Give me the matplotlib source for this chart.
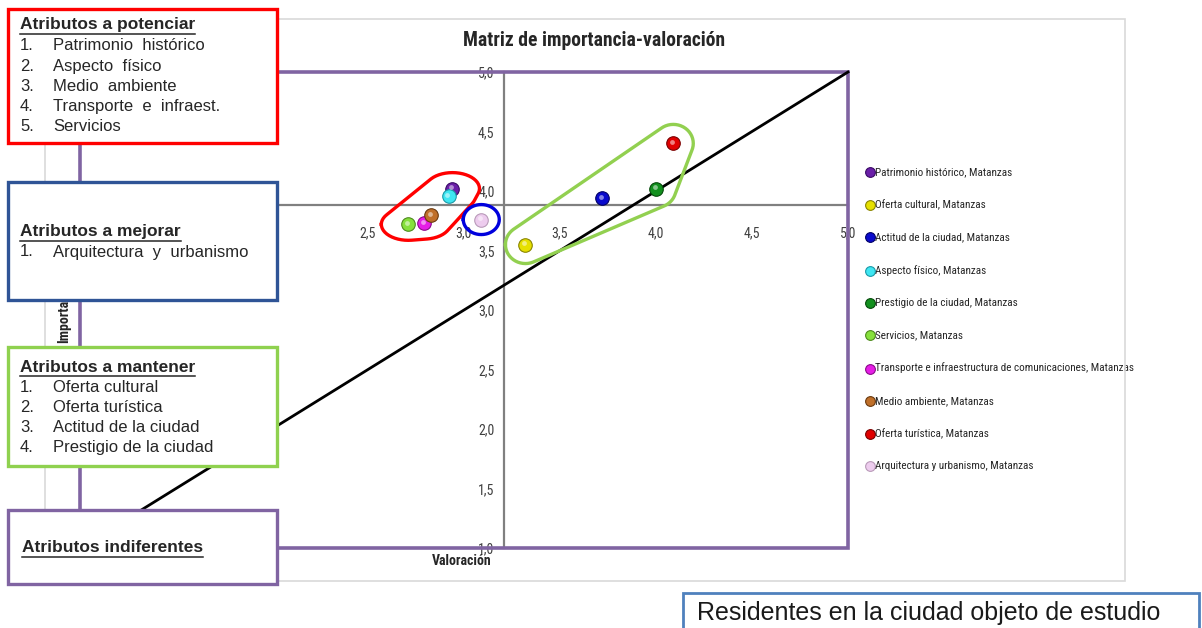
import numpy as np
import matplotlib
matplotlib.use("Agg")
import matplotlib.pyplot as plt
from matplotlib.patches import Rectangle
from matplotlib.ticker import FuncFormatter, MultipleLocator
from matplotlib import font_manager as fm

# ---------------- data ----------------
attributes = [
    "Patrimonio histórico, Matanzas",
    "Oferta cultural, Matanzas",
    "Actitud de la ciudad, Matanzas",
    "Aspecto físico, Matanzas",
    "Prestigio de la ciudad, Matanzas",
    "Servicios, Matanzas",
    "Transporte e infraestructura de comunicaciones, Matanzas",
    "Medio ambiente, Matanzas",
    "Oferta turística, Matanzas",
    "Arquitectura y urbanismo, Matanzas",
]
valoracion = [2.94, 3.32, 3.72, 2.92, 4.00, 2.71, 2.79, 2.83, 4.09, 3.09]
importancia = [4.02, 3.55, 3.94, 3.96, 4.02, 3.72, 3.73, 3.80, 4.40, 3.76]
point_colors = ["#6A1FA8", "#E6E000", "#0A0ACC", "#3EE6F2", "#12901E",
                "#86E03C", "#E61EE6", "#C0702A", "#E00000", "#EDCCEE"]
edge_colors = ["#3A0A66", "#8A8500", "#000066", "#1A9AA8", "#044A0A",
               "#4E8A1E", "#8A0A8A", "#6A3A10", "#7A0000", "#B99AB9"]

x_cross = 3.21   # vertical axis position (valoración)
y_cross = 3.88   # horizontal axis position (importancia)
axis_min, axis_max = 1.0, 5.0
tick_step = 0.5

group_potenciar = [0, 3, 7, 6, 5]
group_mejorar = [9]
group_mantener = [1, 8, 2, 4]

box_potenciar = ["Patrimonio  histórico", "Aspecto  físico",
                 "Medio  ambiente", "Transporte  e  infraest.", "Servicios"]
box_mejorar = ["Arquitectura  y  urbanismo"]
box_mantener = ["Oferta cultural", "Oferta turística",
                "Actitud de la ciudad", "Prestigio de la ciudad"]

# ---------------- fonts ----------------
def available(name):
    try:
        fm.findfont(fm.FontProperties(family=name), fallback_to_default=False)
        return True
    except Exception:
        return False

narrow_name = None
for cand in ["Liberation Sans Narrow", "Arial Narrow", "Roboto Condensed",
             "Open Sans Condensed", "Noto Sans Display"]:
    if available(cand):
        narrow_name = cand
        break
narrow_stretch = "normal"
if narrow_name is None:
    path = fm.findfont(fm.FontProperties(family="DejaVu Sans", stretch="condensed"))
    if "Condensed" in path:
        narrow_name = "DejaVu Sans"
        narrow_stretch = "condensed"
    else:
        narrow_name = "Roboto"
narrow = [narrow_name, "DejaVu Sans"]
arial = ["Liberation Sans", "DejaVu Sans"]

# ---------------- figure ----------------
W, H = 1202, 628
fig = plt.figure(figsize=(W / 100, H / 100), dpi=100)
fig.patch.set_facecolor("white")
renderer = fig.canvas.get_renderer()


def fx(px):
    return px / W


def fy(py):
    return 1 - py / H


def fit_size(text_str, target_px, base, **kw):
    t = fig.text(0, 0, text_str, fontsize=base, **kw)
    w = t.get_window_extent(renderer=renderer).width
    t.remove()
    return base * target_px / w


# chart frame (light gray)
fig.patches.append(Rectangle((fx(45), fy(581)), fx(1125) - fx(45), fy(19) - fy(581),
                             transform=fig.transFigure, fill=False,
                             edgecolor="#D9D9D9", lw=1.2, zorder=0))

L, R, T, B = 80, 848, 72, 548
ax = fig.add_axes([fx(L), fy(B), fx(R) - fx(L), fy(T) - fy(B)])
ax.set_xlim(axis_min, axis_max)
ax.set_ylim(axis_min, axis_max)
ax.set_facecolor("none")

for s in ["top", "right"]:
    ax.spines[s].set_visible(False)
ax.spines["left"].set_position(("data", x_cross))
ax.spines["bottom"].set_position(("data", y_cross))
for s in ["left", "bottom"]:
    ax.spines[s].set_color("#808080")
    ax.spines[s].set_linewidth(1.6)
    ax.spines[s].set_zorder(1)

fmt = FuncFormatter(lambda v, p: f"{v:.1f}".replace(".", ","))
ax.xaxis.set_major_locator(MultipleLocator(tick_step))
ax.yaxis.set_major_locator(MultipleLocator(tick_step))
ax.xaxis.set_major_formatter(fmt)
ax.yaxis.set_major_formatter(fmt)
ax.tick_params(axis="both", length=0, labelsize=10, labelcolor="#404040")
ax.tick_params(axis="x", pad=15)
ax.tick_params(axis="y", pad=7)
for lab in ax.get_xticklabels() + ax.get_yticklabels():
    lab.set_fontfamily(narrow)
    lab.set_fontstretch(narrow_stretch)

# purple plot-area border
ax.add_patch(Rectangle((0, 0), 1, 1, transform=ax.transAxes, fill=False,
                       edgecolor="#8064A2", lw=2.6, zorder=2, clip_on=False))

# diagonal y = x
ax.plot([axis_min, axis_max], [axis_min, axis_max], color="black", lw=2.0,
        zorder=3, clip_on=False)

ax.set_xlabel("Valoración", fontsize=10, fontweight="bold", family=narrow,
              fontstretch=narrow_stretch, color="#262626")
ax.xaxis.set_label_coords(0.497, -0.012)
ax.xaxis.label.set_va("top")
ax.set_ylabel("Importancia", fontsize=10, fontweight="bold", family=narrow,
              fontstretch=narrow_stretch, color="#262626")
ax.yaxis.set_label_coords(-0.012, 0.5)

# points
for i in range(len(attributes)):
    ax.scatter([valoracion[i]], [importancia[i]], s=95, color=point_colors[i],
               edgecolor=edge_colors[i], linewidth=0.8, zorder=5,
               label=attributes[i], clip_on=False)
    ax.scatter([valoracion[i] - 0.006], [importancia[i] + 0.01], s=12,
               color="white", alpha=0.5, linewidth=0, zorder=6, clip_on=False)


# hand-drawn style loops around groups
def hull(pts):
    pts = sorted(set(map(tuple, pts)))
    def cross(o, a, b):
        return (a[0] - o[0]) * (b[1] - o[1]) - (a[1] - o[1]) * (b[0] - o[0])
    lower, upper = [], []
    for p in pts:
        while len(lower) >= 2 and cross(lower[-2], lower[-1], p) <= 0:
            lower.pop()
        lower.append(p)
    for p in reversed(pts):
        while len(upper) >= 2 and cross(upper[-2], upper[-1], p) <= 0:
            upper.pop()
        upper.append(p)
    return lower[:-1] + upper[:-1]


def loop(group, color, rx, ry, lw=2.4):
    disp = ax.transData.transform(np.column_stack(
        [[valoracion[i] for i in group], [importancia[i] for i in group]]))
    ang = np.linspace(0, 2 * np.pi, 48, endpoint=False)
    samples = []
    for (px, py) in disp:
        for a in ang:
            samples.append((round(px + rx * np.cos(a), 3),
                            round(py + ry * np.sin(a), 3)))
    h = np.array(hull(samples))
    h = np.vstack([h, h[:1]])
    d = ax.transData.inverted().transform(h)
    ax.plot(d[:, 0], d[:, 1], color=color, lw=lw, zorder=4, clip_on=False,
            solid_joinstyle="round")


loop(group_potenciar, "#FF0000", 27, 16)
loop(group_mejorar, "#0000DD", 18, 15)
loop(group_mantener, "#92D050", 20, 19)

# legend
leg_size = min(10.0, fit_size(attributes[6], 256, 10, family=narrow,
                              fontstretch=narrow_stretch))
leg = ax.legend(loc="upper left", bbox_to_anchor=(fx(864), fy(167)),
                bbox_transform=fig.transFigure,
                frameon=False,
                prop={"family": narrow, "size": leg_size, "stretch": narrow_stretch},
                handletextpad=0.0, labelspacing=33.4 / (leg_size * 1.389) - 1.0,
                markerscale=0.72, borderaxespad=0, borderpad=0,
                handlelength=1.0)
for t in leg.get_texts():
    t.set_color("#262626")

# title
title_str = "Matriz de importancia-valoración"
title_size = min(15.0, fit_size(title_str, 262, 14, family=narrow,
                                fontweight="bold", fontstretch=narrow_stretch))
fig.text(fx(594), fy(40), title_str, ha="center", va="center",
         fontsize=title_size, fontweight="bold", family=narrow,
         fontstretch=narrow_stretch, color="#262626")


# annotation boxes
def box(x0, y0, x1, y1, color, lw=2.4):
    fig.patches.append(Rectangle((fx(x0), fy(y1)), fx(x1) - fx(x0), fy(y0) - fy(y1),
                                 transform=fig.transFigure, facecolor="white",
                                 edgecolor=color, lw=lw, zorder=10))


def heading(x, y, s):
    t = fig.text(fx(x), fy(y), s, ha="left", va="center", fontsize=12.5,
                 fontweight="bold", family=arial, color="#262626", zorder=11)
    bb = t.get_window_extent(renderer=renderer)
    fig.add_artist(plt.Line2D([bb.x0 / W, bb.x1 / W],
                              [fy(y + 9)] * 2, transform=fig.transFigure,
                              color="#262626", lw=1.1, zorder=11))


def lines(y0, items, step=20.2):
    for k, s in enumerate(items):
        fig.text(fx(20), fy(y0 + k * step), f"{k + 1}.", ha="left", va="center",
                 fontsize=12, family=arial, color="#262626", zorder=11)
        fig.text(fx(53), fy(y0 + k * step), s, ha="left", va="center",
                 fontsize=12, family=arial, color="#262626", zorder=11)


box(8, 9, 277, 143, "#FF0000")
heading(20, 25, "Atributos a potenciar")
lines(46, box_potenciar)

box(8, 182, 277, 300, "#2F5496")
heading(20, 232, "Atributos a mejorar")
lines(252, box_mejorar)

box(8, 347, 277, 466, "#8FD14F")
heading(20, 367, "Atributos a mantener")
lines(387, box_mantener)

box(8, 510, 277, 584, "#8064A2")
heading(22, 548, "Atributos indiferentes")

box(683, 593, 1199, 640, "#4F81BD", lw=2.0)
fig.text(fx(697), fy(613), "Residentes en la ciudad objeto de estudio",
         ha="left", va="center", fontsize=18, family=arial,
         color="#1A1A1A", zorder=11)

fig.savefig("out.png", dpi=100, facecolor="white")
